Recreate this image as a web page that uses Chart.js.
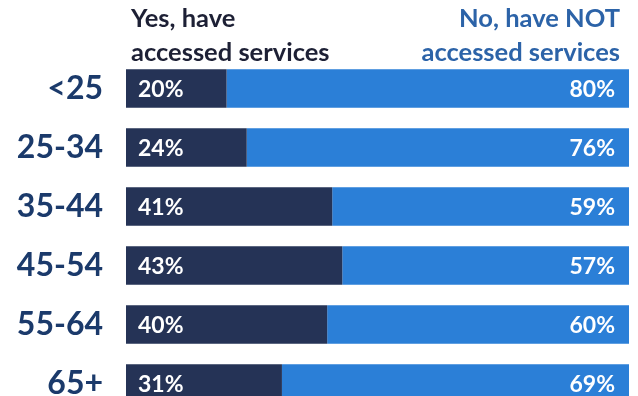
<!DOCTYPE html>
<html>
<head>
<meta charset="utf-8">
<script src="https://cdn.jsdelivr.net/npm/chart.js@4"></script>
<style>
  html, body { margin: 0; padding: 0; background: #fff; overflow: hidden; }
  #wrap { position: absolute; left: 0; top: 0; width: 638px; height: 413px; }
</style>
</head>
<body>
<div id="wrap"><canvas id="chart1"></canvas></div>
<script>
const ageGroups = ['<25', '25-34', '35-44', '45-54', '55-64', '65+'];
const accessed = [20, 24, 41, 43, 40, 31];
const notAccessed = [80, 76, 59, 57, 60, 69];
const headerYes = ['Yes, have', 'accessed services'];
const headerNo = ['No, have NOT', 'accessed services'];

const FONT = "Lato, 'Open Sans', sans-serif";
const NAVY = '#253356';
const BLUE = '#2b7fd7';

// percent text inside each bar segment
const valueLabels = {
  id: 'valueLabels',
  afterDatasetsDraw(chart) {
    const ctx = chart.ctx;
    ctx.save();
    ctx.fillStyle = '#ffffff';
    ctx.font = 'bold 23px ' + FONT;
    ctx.textBaseline = 'middle';
    chart.data.datasets.forEach((ds, i) => {
      chart.getDatasetMeta(i).data.forEach((bar, j) => {
        const txt = ds.data[j] + '%';
        if (i === 0) {
          ctx.textAlign = 'left';
          ctx.fillText(txt, bar.base + 12, bar.y + 1);
        } else {
          ctx.textAlign = 'right';
          ctx.fillText(txt, bar.x - 14, bar.y + 1);
        }
      });
    });
    ctx.restore();
  }
};

// column headings above the bars
const headings = {
  id: 'headings',
  afterDraw(chart) {
    const ctx = chart.ctx;
    const area = chart.chartArea;
    ctx.save();
    ctx.font = 'bold 25.5px ' + FONT;
    ctx.textBaseline = 'alphabetic';
    ctx.fillStyle = '#1d2035';
    ctx.textAlign = 'left';
    headerYes.forEach((line, k) => ctx.fillText(line, area.left + 5, 27 + k * 34));
    ctx.fillStyle = '#2c63a8';
    ctx.textAlign = 'right';
    headerNo.forEach((line, k) => ctx.fillText(line, area.right - 9, 27 + k * 34));
    ctx.restore();
  }
};

new Chart(document.getElementById('chart1'), {
  type: 'bar',
  data: {
    labels: ageGroups,
    datasets: [
      { label: 'Yes, have accessed services', data: accessed, backgroundColor: NAVY },
      { label: 'No, have NOT accessed services', data: notAccessed, backgroundColor: BLUE }
    ]
  },
  options: {
    indexAxis: 'y',
    responsive: true,
    maintainAspectRatio: false,
    devicePixelRatio: 1,
    animation: false,
    datasets: { bar: { barPercentage: 1, categoryPercentage: 0.656 } },
    layout: { padding: { top: 59, right: 9, left: 0, bottom: 0 } },
    plugins: { legend: { display: false }, tooltip: { enabled: false } },
    scales: {
      x: { stacked: true, min: 0, max: 100, display: false },
      y: {
        stacked: true,
        grid: { display: false, drawTicks: false },
        border: { display: false },
        ticks: {
          padding: 23,
          color: '#1b3a6b',
          font: { family: FONT, size: 32, weight: 'bold' }
        },
        afterFit(scale) {
          // fixed label column, and no extra room reserved for the end labels
          scale.width = 126;
          scale.paddingTop = 0;
          scale.paddingBottom = 0;
        }
      }
    }
  },
  plugins: [valueLabels, headings]
});
</script>
</body>
</html>
